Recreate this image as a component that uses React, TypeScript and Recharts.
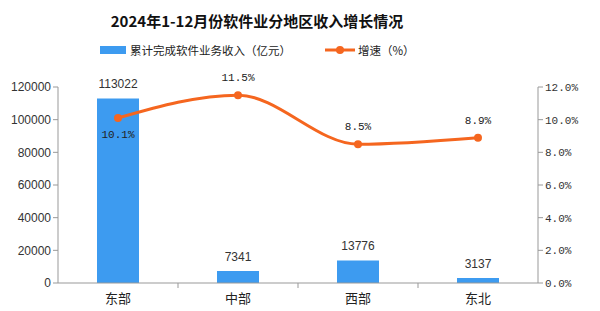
import { ComposedChart, Bar, Line, XAxis, YAxis, LabelList } from "recharts";

const regions = ["东部", "中部", "西部", "东北"];
const revenue = [113022, 7341, 13776, 3137];
const growth = [10.1, 11.5, 8.5, 8.9];
const leftTicks = [0, 20000, 40000, 60000, 80000, 100000, 120000];
const rightTicks = [0, 2, 4, 6, 8, 10, 12];

const data = regions.map((region, i) => ({ region, revenue: revenue[i], growth: growth[i] }));

const BLUE = "#3d9bf0";
const ORANGE = "#f5661f";
const MONO = "'Liberation Mono', 'DejaVu Sans Mono', monospace";
const CHART_W = 600;
const LEFT_W = 58;
const RIGHT_W = 62;
const HALF_BAND = (CHART_W - LEFT_W - RIGHT_W) / regions.length / 2;

function GrowthLabel(props: any) {
  const { x, y, value, index } = props;
  const below = index === 0;
  return (
    <text
      x={x}
      y={below ? y + 20 : y - 14}
      textAnchor="middle"
      fontSize={11}
      fontFamily={MONO}
      fill="#222"
    >
      {`${Number(value).toFixed(1)}%`}
    </text>
  );
}

// category label plus the separator tick mark that sits between categories
function CategoryTick(props: any) {
  const { x, y, payload, index } = props;
  return (
    <g>
      {index < regions.length - 1 && (
        <line x1={x + HALF_BAND} y1={y} x2={x + HALF_BAND} y2={y + 5} stroke="#999" strokeWidth={1} />
      )}
      <text
        x={x}
        y={y + 20}
        textAnchor="middle"
        fontSize={13}
        fill="#222"
        fontFamily="'Noto Sans CJK SC', sans-serif"
      >
        {payload.value}
      </text>
    </g>
  );
}

export default function App() {
  return (
    <div style={{ position: "absolute", left: 0, top: 0, width: 600, height: 311, background: "#fff" }}>
      <div
        style={{
          position: "absolute",
          left: 0,
          width: 514,
          top: 10,
          textAlign: "center",
          fontSize: 15,
          fontWeight: "bold",
          fontFamily: "'Noto Sans CJK SC', sans-serif",
          color: "#111",
        }}
      >
        2024年1-12月份软件业分地区收入增长情况
      </div>
      <div
        style={{
          position: "absolute",
          top: 42,
          left: 100,
          fontSize: 11.5,
          fontFamily: "'Noto Sans CJK SC', sans-serif",
          color: "#222",
          display: "flex",
          alignItems: "center",
        }}
      >
        <span style={{ display: "inline-block", width: 26, height: 8, background: BLUE, marginRight: 4 }} />
        <span>累计完成软件业务收入（亿元）</span>
        <svg width={30} height={10} style={{ marginLeft: 34, marginRight: 3 }}>
          <line x1={0} y1={5} x2={30} y2={5} stroke={ORANGE} strokeWidth={3} />
          <circle cx={15} cy={5} r={4} fill={ORANGE} />
        </svg>
        <span>增速（%）</span>
      </div>
      <div style={{ position: "absolute", left: 0, top: 0 }}>
        <ComposedChart
          width={CHART_W}
          height={311}
          data={data}
          margin={{ top: 87, right: 0, bottom: 0, left: 0 }}
        >
          <XAxis
            dataKey="region"
            height={28}
            axisLine={{ stroke: "#999" }}
            tickLine={false}
            tickSize={0}
            tickMargin={0}
            tick={<CategoryTick />}
            interval={0}
          />
          <YAxis
            yAxisId="left"
            width={LEFT_W}
            domain={[0, 120000]}
            ticks={leftTicks}
            axisLine={{ stroke: "#999" }}
            tickLine={{ stroke: "#999" }}
            tickSize={5}
            tick={{ fontSize: 12, fill: "#333", fontFamily: "'Liberation Sans', Arial, sans-serif" }}
          />
          <YAxis
            yAxisId="right"
            orientation="right"
            width={RIGHT_W}
            domain={[0, 12]}
            ticks={rightTicks}
            tickFormatter={(v) => `${Number(v).toFixed(1)}%`}
            axisLine={{ stroke: "#999" }}
            tickLine={{ stroke: "#999" }}
            tickSize={5}
            tick={{ fontSize: 11, fill: "#333", fontFamily: MONO }}
          />
          <Bar yAxisId="left" dataKey="revenue" fill={BLUE} barSize={42} isAnimationActive={false}>
            <LabelList
              dataKey="revenue"
              position="top"
              offset={10}
              fontSize={12}
              fill="#333"
              fontFamily="'Liberation Sans', Arial, sans-serif"
            />
          </Bar>
          <Line
            yAxisId="right"
            type="monotone"
            dataKey="growth"
            stroke={ORANGE}
            strokeWidth={3}
            dot={{ r: 4, fill: ORANGE, stroke: ORANGE, strokeWidth: 0 }}
            isAnimationActive={false}
            label={<GrowthLabel />}
          />
        </ComposedChart>
      </div>
    </div>
  );
}
